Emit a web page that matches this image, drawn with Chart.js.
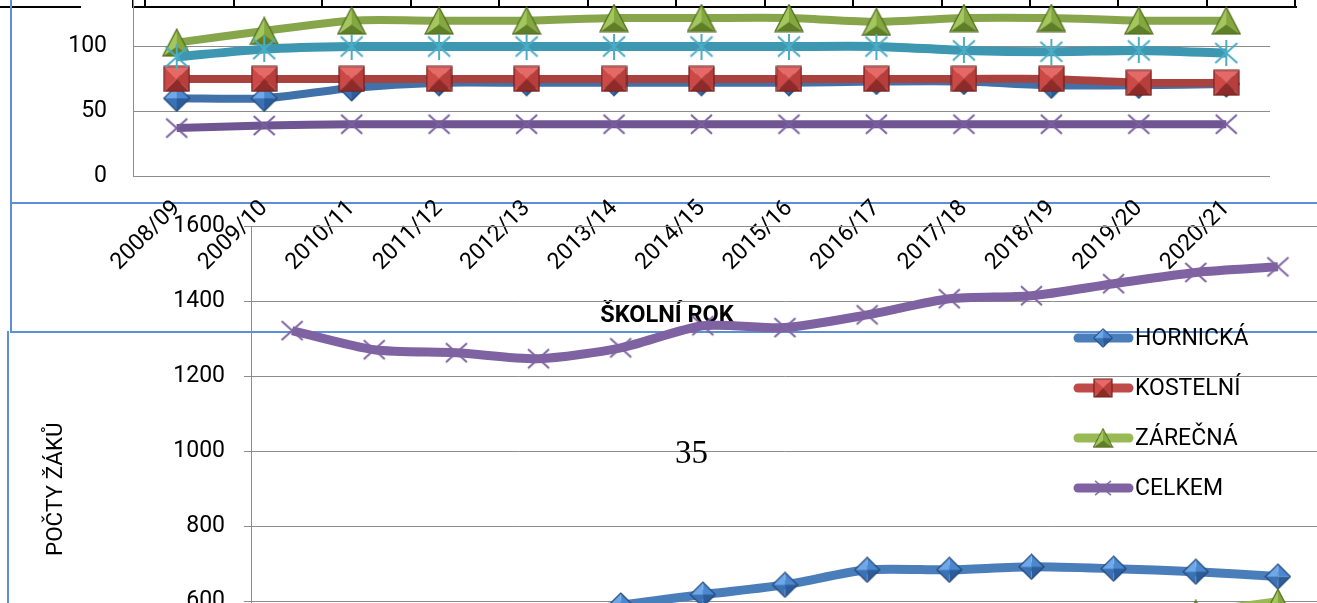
<!DOCTYPE html>
<html>
<head>
<meta charset="utf-8">
<script src="https://cdn.jsdelivr.net/npm/chart.js@4.4.1/dist/chart.umd.min.js"></script>
<style>
  html, body { margin: 0; padding: 0; width: 1317px; height: 603px; overflow: hidden; background: #fff; }
  canvas { position: absolute; left: 0; }
  #top { top: -58px; }
  #bottom { top: 0; }
  .rule { position: absolute; background: #000; }
  .blue { position: absolute; background: #5b8fd6; }
  #box { position: absolute; left: 10px; top: 202px; width: 1330px; height: 127px; border: 2px solid #5b8fd6; }
  #page { position: absolute; left: 675px; top: 434px; font: 33px "Liberation Serif", serif; line-height: 36px; }
</style>
</head>
<body>
<!-- zbytky tabulky a textového rámečku ze skenované stránky -->
<div class="rule" style="left:0;top:6px;width:81px;height:2px"></div>
<div class="rule" style="left:133px;top:6px;width:1164px;height:2px"></div>
<div id="ticks"></div>
<div class="blue" style="left:10px;top:0;width:2px;height:203px"></div>
<div class="blue" style="left:7px;top:331px;width:2px;height:272px"></div>
<div id="box"></div>

<canvas id="top" width="1317" height="418"></canvas>
<canvas id="bottom" width="1340" height="900"></canvas>
<div id="page">35</div>

<script>
const years = ['2008/09', '2009/10', '2010/11', '2011/12', '2012/13', '2013/14', '2014/15',
               '2015/16', '2016/17', '2017/18', '2018/19', '2019/20', '2020/21'];

// horní graf (useknutý)
const topTicks = [0, 50, 100, 150];
const hornickaTop = [60, 60, 68, 72, 72, 72, 72, 72, 73, 73, 70, 70, 71];
const kostelniTop = [75, 75, 75, 75, 75, 75, 75, 75, 75, 75, 75, 72, 72];
const zarecnaTop  = [103, 112, 120, 120, 120, 122, 122, 122, 119, 122, 122, 120, 120];
const celkemTop   = [37, 39, 40, 40, 40, 40, 40, 40, 40, 40, 40, 40, 40];
const serie5Top   = [92, 98, 100, 100, 100, 100, 100, 100, 100, 97, 96, 97, 95];

// dolní graf
const bottomTicks = [200, 400, 600, 800, 1000, 1200, 1400, 1600];
const hornicka = [560, 555, 550, 555, 590, 619, 645, 685, 685, 693, 688, 680, 667];
const kostelni = [243, 217, 219, 203, 207, 207, 201, 205, 218, 218, 225, 228, 226];
const zarecna  = [520, 500, 495, 490, 480, 510, 485, 475, 505, 505, 535, 570, 600];
const celkem   = [1323, 1272, 1264, 1248, 1277, 1336, 1331, 1365, 1408, 1416, 1448, 1478, 1493];

// svislé čárky tabulky nahoře
const tickXs = [133, 145, 234, 322, 411, 499, 588, 676, 765, 853, 942, 1030, 1118, 1207, 1295];
document.getElementById('ticks').innerHTML = tickXs
  .map(x => `<div class="rule" style="left:${x - 1}px;top:0;width:2px;height:8px"></div>`).join('');

function makeCanvas(w, h) {
  const c = document.createElement('canvas');
  c.width = w; c.height = h;
  return c;
}

// "3D" značka: mnohoúhelník rozdělený na plošky do středu
function facetMarker(w, h, verts, center, shades, edge) {
  const c = makeCanvas(w, h), g = c.getContext('2d');
  verts.forEach((p, i) => {
    const q = verts[(i + 1) % verts.length];
    g.beginPath();
    g.moveTo(p[0], p[1]); g.lineTo(q[0], q[1]); g.lineTo(center[0], center[1]);
    g.closePath();
    g.fillStyle = shades[i];
    g.fill();
  });
  g.beginPath();
  verts.forEach((p, i) => i ? g.lineTo(p[0], p[1]) : g.moveTo(p[0], p[1]));
  g.closePath();
  g.strokeStyle = edge; g.lineWidth = 1.2; g.stroke();
  return c;
}

const square = s => facetMarker(s, s, [[1, 1], [s - 1, 1], [s - 1, s - 1], [1, s - 1]], [s / 2, s / 2],
  ['#e56a67', '#b83e3b', '#8e2b29', '#cd4946'], '#6e1f1d');
const diamond = s => facetMarker(s, s, [[s / 2, 1], [s - 1, s / 2], [s / 2, s - 1], [1, s / 2]], [s / 2, s / 2],
  ['#4c88cf', '#2c5d9a', '#3a72b5', '#6ea8e8'], '#24497a');
const triangle = (w, h) => facetMarker(w, h, [[w / 2, 1], [w - 1, h - 1], [1, h - 1]], [w / 2, h * 0.62],
  ['#84a83f', '#5f7f26', '#a3c65d'], '#4f6b1c');

function strokeMarker(s, color, withVertical) {
  const c = makeCanvas(s, s), g = c.getContext('2d');
  g.strokeStyle = color; g.lineWidth = 2;
  g.beginPath();
  g.moveTo(2, 3); g.lineTo(s - 2, s - 3);
  g.moveTo(s - 2, 3); g.lineTo(2, s - 3);
  if (withVertical) { g.moveTo(s / 2, 0); g.lineTo(s / 2, s); }
  g.stroke();
  return c;
}

function series(label, data, color, marker, order, width) {
  return {
    label, data, order,
    borderColor: color, backgroundColor: color,
    borderWidth: width, tension: 0.25,
    pointStyle: marker, pointRadius: 12,
  };
}

const font = { family: 'Roboto', size: 23 };
const plain = v => String(v);

// popisek osy x horního grafu, Excel ho má posunutý doleva
const axisTitle = {
  id: 'axisTitle',
  afterDraw(chart) {
    const ctx = chart.ctx;
    ctx.save();
    ctx.fillStyle = '#000';
    ctx.font = 'bold 23.5px Roboto';
    ctx.textAlign = 'center';
    ctx.textBaseline = 'middle';
    ctx.fillText('ŠKOLNÍ ROK', 667, chart.chartArea.bottom + 140);
    ctx.restore();
  }
};

const sideLegend = {
  id: 'sideLegend',
  afterDraw(chart) {
    const ctx = chart.ctx;
    chart.data.datasets.forEach((d, i) => {
      const y = 338 + i * 50;
      ctx.save();
      ctx.strokeStyle = d.borderColor;
      ctx.lineWidth = 9;
      ctx.lineCap = 'round';
      ctx.beginPath(); ctx.moveTo(1078, y); ctx.lineTo(1129, y); ctx.stroke();
      const img = d.pointStyle, w = img.width * 0.75, h = img.height * 0.75;
      ctx.drawImage(img, 1103 - w / 2, y - h / 2, w, h);
      ctx.fillStyle = '#000';
      ctx.font = '23px Roboto';
      ctx.textBaseline = 'middle';
      ctx.fillText(d.label, 1135, y + 1);
      ctx.restore();
    });
  }
};

function draw() {
  new Chart(document.getElementById('top'), {
    type: 'line',
    data: {
      labels: years,
      datasets: [
        series('5', serie5Top, '#3d97b0', strokeMarker(26, '#4bacc6', true), 1, 9),
        series('CELKEM', celkemTop, '#6f5692', strokeMarker(25, '#7a5fa0', false), 2, 8),
        series('ZÁREČNÁ', zarecnaTop, '#87a54b', triangle(30, 29), 3, 8),
        series('KOSTELNÍ', kostelniTop, '#a9413e', square(27), 4, 8),
        series('HORNICKÁ', hornickaTop, '#4171a9', diamond(28), 5, 8),
      ]
    },
    options: {
      responsive: false, animation: false, devicePixelRatio: 1, events: [],
      layout: { padding: { top: 21, right: 47, left: 0, bottom: 0 } },
      plugins: { legend: { display: false }, tooltip: { enabled: false } },
      scales: {
        x: {
          offset: true,
          grid: { display: false, drawTicks: false },
          border: { display: false },
          ticks: { minRotation: 45, maxRotation: 45, padding: 19, font, color: '#000' },
          afterFit: s => { s.height = 184; }
        },
        y: {
          min: topTicks[0], max: topTicks[topTicks.length - 1],
          ticks: { stepSize: topTicks[1] - topTicks[0], padding: 26, font, color: '#000', callback: plain },
          grid: { color: '#8c8c8c', drawTicks: false },
          border: { display: true, color: '#8c8c8c' },
          afterFit: s => { s.width = 133; }
        }
      }
    },
    plugins: [axisTitle]
  });

  new Chart(document.getElementById('bottom'), {
    type: 'line',
    data: {
      labels: years,
      datasets: [
        series('HORNICKÁ', hornicka, '#4a7ebb', diamond(27), 4, 9),
        series('KOSTELNÍ', kostelni, '#be4b48', square(26), 3, 9),
        series('ZÁREČNÁ', zarecna, '#98b954', triangle(28, 27), 2, 9),
        series('CELKEM', celkem, '#7f62a1', strokeMarker(25, '#8064a2', false), 1, 9),
      ]
    },
    options: {
      responsive: false, animation: false, devicePixelRatio: 1, events: [],
      layout: { padding: { top: 226.7, right: 17, left: 0, bottom: 8.3 } },
      plugins: { legend: { display: false }, tooltip: { enabled: false } },
      scales: {
        x: {
          offset: true,
          grid: { display: false },
          border: { display: false },
          ticks: { minRotation: 45, maxRotation: 45, font, color: '#000' },
          afterFit: s => { s.height = 140; }
        },
        y: {
          min: bottomTicks[0], max: bottomTicks[bottomTicks.length - 1],
          ticks: { stepSize: bottomTicks[1] - bottomTicks[0], padding: 19, font, color: '#000', callback: plain },
          grid: { color: '#8c8c8c', tickLength: 7 },
          border: { display: true, color: '#8c8c8c' },
          title: { display: true, text: 'POČTY ŽÁKŮ', color: '#000',
                   font: { family: 'Roboto', size: 22.5 }, padding: { top: 43, bottom: 0 } },
          afterFit: s => { s.width = 251; }
        }
      }
    },
    plugins: [sideLegend]
  });
}

document.fonts.load('23px Roboto').then(draw, draw);
</script>
</body>
</html>
